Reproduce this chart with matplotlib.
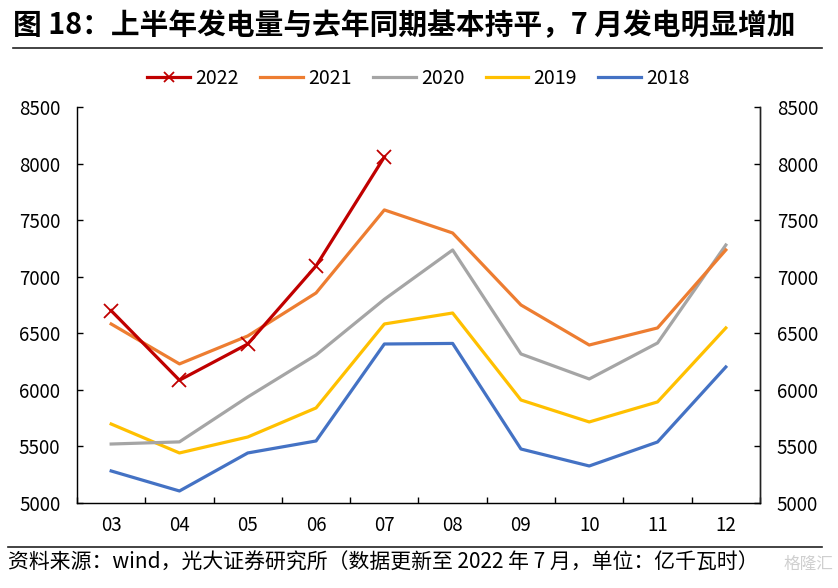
import matplotlib
matplotlib.use('Agg')
import matplotlib.pyplot as plt
import numpy as np

plt.rcParams['font.family'] = ['Noto Sans CJK SC', 'DejaVu Sans']

months = ['03', '04', '05', '06', '07', '08', '09', '10', '11', '12']
y2022 = [6700, 6085, 6405, 7095, 8058]
y2021 = [6582, 6229, 6476, 6856, 7590, 7386, 6750, 6396, 6547, 7236]
y2020 = [5521, 5540, 5937, 6308, 6800, 7236, 6317, 6096, 6414, 7280]
y2019 = [5698, 5442, 5583, 5840, 6582, 6679, 5910, 5716, 5893, 6547]
y2018 = [5283, 5106, 5442, 5548, 6405, 6410, 5477, 5327, 5539, 6202]

fig = plt.figure(figsize=(8.38, 5.88), dpi=100)
ax = fig.add_axes([0.0919, 0.1446, 0.815, 0.6735])

x = np.arange(len(months))
lw = 2.3
ax.plot(x[:len(y2022)], y2022, color='#C00000', lw=lw, marker='x', ms=10,
        mew=1.3, mec='#C00000', label='2022', zorder=6)
ax.plot(x, y2021, color='#ED7D31', lw=lw, label='2021', zorder=5)
ax.plot(x, y2020, color='#A5A5A5', lw=lw, label='2020', zorder=4)
ax.plot(x, y2019, color='#FFC000', lw=lw, label='2019', zorder=3)
ax.plot(x, y2018, color='#4472C4', lw=lw, label='2018', zorder=2)

ax.set_xlim(-0.5, len(months) - 0.5)
ax.set_ylim(5000, 8500)
ax.set_yticks(range(5000, 8501, 500))
ax.set_xticks(x)
ax.set_xticklabels(months)
ax.set_xticks(np.arange(-0.5, len(months), 1), minor=True)
ax.tick_params(axis='x', which='major', length=0, labelsize=13.5, pad=9)
ax.tick_params(axis='x', which='minor', direction='in', length=4, width=1)
ax.tick_params(axis='y', direction='in', length=4, width=1, labelsize=13.5, pad=12)
ax.spines['top'].set_visible(False)
for s in ['left', 'right', 'bottom']:
    ax.spines[s].set_linewidth(1)
    ax.spines[s].set_color('#222222')

ax2 = ax.twinx()
ax2.set_ylim(ax.get_ylim())
ax2.set_yticks(range(5000, 8501, 500))
ax2.tick_params(axis='y', direction='in', length=4, width=1, labelsize=13.5, pad=12)
ax2.spines['top'].set_visible(False)
ax2.spines['right'].set_linewidth(1)
ax2.spines['right'].set_color('#222222')

ax.legend(loc='center', bbox_to_anchor=(0.5, 1.073), ncol=5, frameon=False,
          fontsize=14, handlelength=2.2, handletextpad=0.26, columnspacing=1.1,
          markerscale=0.75)

fig.text(0.016, 0.957, '图 18：上半年发电量与去年同期基本持平，7 月发电明显增加',
         fontsize=20.7, fontweight='bold', ha='left', va='center')
fig.add_artist(plt.Line2D([0.015, 0.981], [0.918, 0.918], color='#222222', lw=1.2))
fig.add_artist(plt.Line2D([0.01, 0.981], [0.070, 0.070], color='#222222', lw=1.2))
fig.text(0.01, 0.043, '资料来源：wind，光大证券研究所（数据更新至 2022 年 7 月，单位：亿千瓦时）',
         fontsize=15, ha='left', va='center')
fig.text(0.994, 0.040, '格隆汇', fontsize=12, color='#cfcfcf', ha='right', va='center')

fig.savefig('out.png', dpi=100)
